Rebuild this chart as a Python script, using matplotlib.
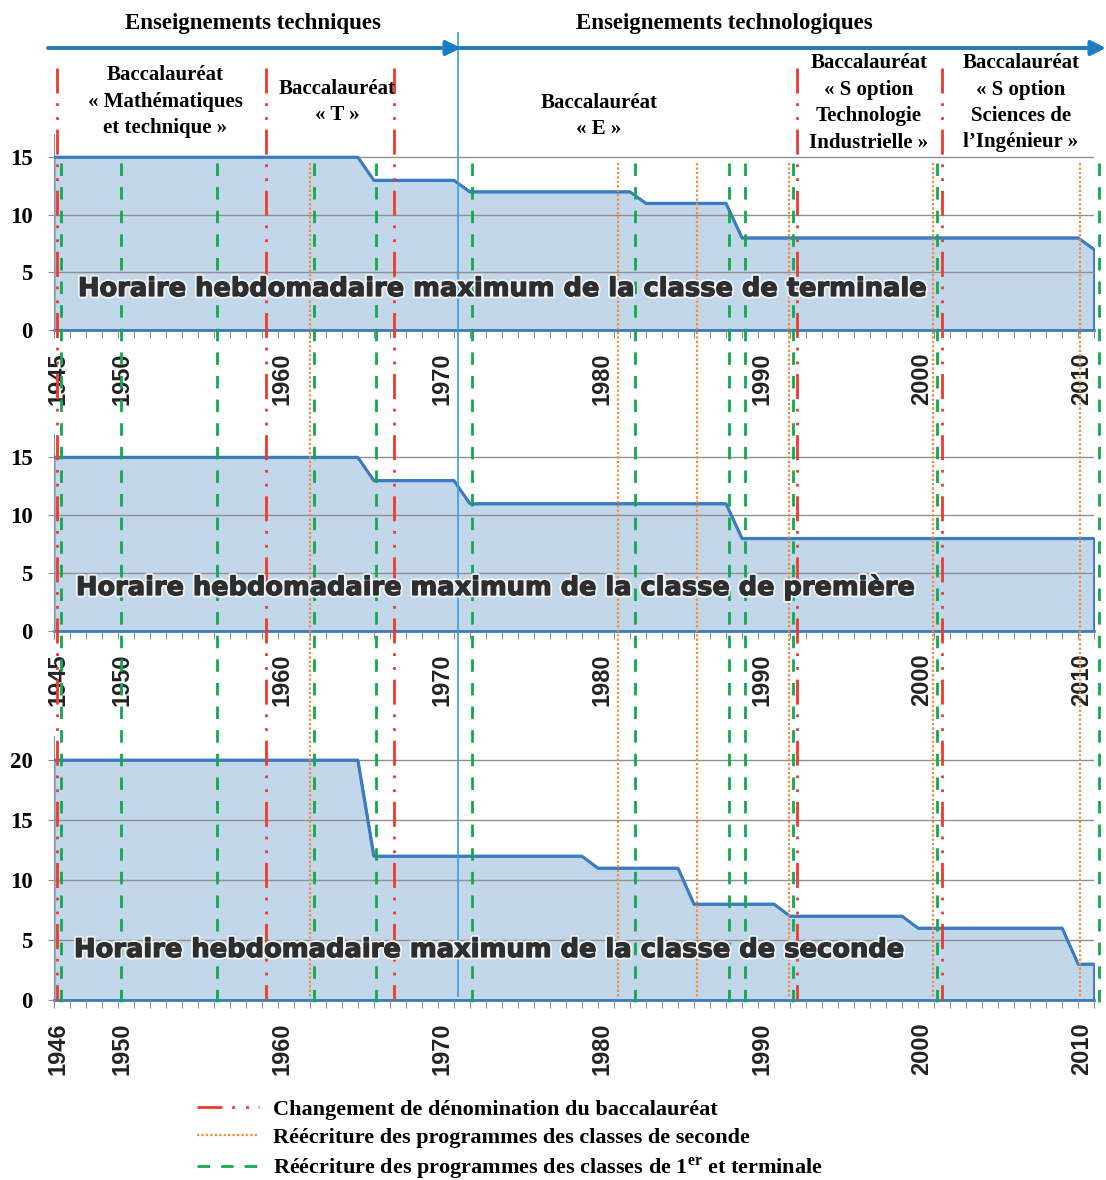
import numpy as np
import matplotlib
matplotlib.use('Agg')
import matplotlib.pyplot as plt
import matplotlib.transforms as mtransforms
import matplotlib.patheffects as pe
from matplotlib.lines import Line2D

plt.rcParams['mathtext.fontset'] = 'custom'
plt.rcParams['mathtext.rm'] = 'Liberation Serif:bold'
plt.rcParams['mathtext.bf'] = 'Liberation Serif:bold'

# ---- Données ----
# sommets des courbes : année, horaire hebdomadaire maximum (h)
terminale_x = [1946, 1965, 1966, 1971, 1972, 1982, 1983, 1988, 1989, 2010, 2011]
terminale_y = [15, 15, 13, 13, 12, 12, 11, 11, 8, 8, 7]
premiere_x = [1946, 1965, 1966, 1971, 1972, 1988, 1989, 2011]
premiere_y = [15, 15, 13, 13, 11, 11, 8, 8]
seconde_x = [1946, 1965, 1966, 1979, 1980, 1985, 1986, 1991, 1992, 1999, 2000, 2009, 2010, 2011]
seconde_y = [20, 20, 12, 12, 11, 11, 8, 8, 7, 7, 6, 6, 3, 3]

# dates des évènements
changement_bac = [1946.2, 1959.25, 1967.3, 1992.45, 2001.5]
reecriture_seconde = [1962.0, 1981.25, 1986.2, 1991.95, 2000.95, 2010.15]
reecriture_1T = [1946.45, 1950.2, 1956.2, 1962.25, 1966.15, 1972.15,
                 1982.3, 1988.2, 1989.2, 1992.2, 2001.2, 2011.3]
passage_techno = 1971.25

annees = list(range(1946, 2012))
annees_etiq = [1946, 1950, 1960, 1970, 1980, 1990, 2000, 2010]
etiq_haut = ['1945', '1950', '1960', '1970', '1980', '1990', '2000', '2010']
etiq_bas = ['1946', '1950', '1960', '1970', '1980', '1990', '2000', '2010']

titres = ["Horaire hebdomadaire maximum de la classe de terminale",
          "Horaire hebdomadaire maximum de la classe de première",
          "Horaire hebdomadaire maximum de la classe de seconde"]

bacs = [(165, 75, ["Baccalauréat", "« Mathématiques", "et technique »"]),
        (337, 89, ["Baccalauréat", "« T »"]),
        (599, 103, ["Baccalauréat", "« E »"]),
        (869, 63, ["Baccalauréat", "« S option", "Technologie", "Industrielle »"]),
        (1021, 63, ["Baccalauréat", "« S option", "Sciences de", "l’Ingénieur »"])]

legende = ["Changement de dénomination du baccalauréat",
           "Réécriture des programmes des classes de seconde",
           "Réécriture des programmes des classes de 1$^{\\mathbf{er}}$ et terminale"]

# ---- Styles ----
REMPL = '#C3D7EA'
BLEU = '#3A7CC2'
GRILLE = '#8f8f8f'
ROUGE = '#EE3A2C'
ORANGE = '#F58A3A'
VERT = '#12A84E'
ls_rouge = (0, (9, 3.5, 1, 4, 1, 3.5))
ls_vert = (0, (4.5, 4))
ls_orange = (0, (1, 1))

W, H = 1106, 1180
fig = plt.figure(figsize=(W / 100, H / 100), dpi=100)
pix = mtransforms.Affine2D().scale(1 / W, -1 / H).translate(0, 1) + fig.transFigure

G = 53.5 / W
LARG = 1040.5 / W
decal = mtransforms.ScaledTranslation(4 / 100, 0, fig.dpi_scale_trans)


def panneau(bas_px, haut_px, x, y, ymax, yticks, etiq):
    ax = fig.add_axes([G, 1 - bas_px / H, LARG, (bas_px - haut_px) / H])
    ax.fill_between(x, y, 0, facecolor=REMPL, edgecolor=BLEU, lw=2, zorder=1)
    ax.plot(x, y, color=BLEU, lw=2, zorder=3)
    ax.set_xlim(1946, 2011)
    ax.set_ylim(0, ymax)
    ax.yaxis.grid(True, color=GRILLE, lw=1)
    ax.set_axisbelow(False)
    for s in ['top', 'right']:
        ax.spines[s].set_visible(False)
    ax.spines['left'].set_color(GRILLE)
    ax.spines['bottom'].set_color(BLEU)
    ax.spines['bottom'].set_linewidth(2)
    lab = [etiq[annees_etiq.index(a)] if a in annees_etiq else '' for a in annees]
    ax.set_xticks(annees, labels=lab, rotation=90, fontsize=17, fontweight='bold',
                  family='Liberation Sans', color='#222222')
    ax.set_yticks(yticks, labels=[str(v) for v in yticks], fontsize=16.5,
                  fontweight='bold', family='Liberation Serif')
    ax.tick_params(axis='x', length=6, color=GRILLE, pad=10)
    ax.tick_params(axis='y', length=4, color=GRILLE, pad=11)
    # léger décalage des étiquettes vers la droite, comme dans l'original
    for t in ax.get_xticklabels():
        t.set_transform(t.get_transform() + decal)
    return ax


panneau(330, 134, terminale_x, terminale_y, 17, [0, 5, 10, 15], etiq_haut)
panneau(631, 434, premiere_x, premiere_y, 17, [0, 5, 10, 15], etiq_haut)
panneau(1000, 736, seconde_x, seconde_y, 22, [0, 5, 10, 15, 20], etiq_bas)

# ---- calque de dessin (x en années, y en pixels) ----
ov = fig.add_axes([G, 0, LARG, 1], zorder=10)
ov.set_xlim(1946, 2011)
ov.set_ylim(H, 0)
ov.axis('off')
ov.patch.set_alpha(0)

ov.vlines(reecriture_seconde, 163, 998, colors=ORANGE, lw=1.6, linestyles=ls_orange, clip_on=False)
ov.vlines(reecriture_1T, 163, 1003, colors=VERT, lw=2, linestyles=ls_vert, clip_on=False)
ov.vlines(changement_bac, 68, 1000, colors=ROUGE, lw=2, linestyles=ls_rouge, clip_on=False)
ov.vlines([passage_techno], 32, 997, colors='#3AA0E0', lw=1.2, clip_on=False)

# flèches du haut
fl = dict(arrowstyle='-|>', color='#1E7BC6', lw=2.8, mutation_scale=22, shrinkA=0, shrinkB=0)
ov.annotate('', xy=(461, 48), xytext=(48, 48), xycoords=pix, textcoords=pix, arrowprops=fl)
ov.annotate('', xy=(1106, 48), xytext=(457, 48), xycoords=pix, textcoords=pix, arrowprops=fl)

serif = dict(family='Liberation Serif', fontweight='bold', color='black')
ov.text(253, 23, "Enseignements techniques", transform=pix, ha='center', va='center', fontsize=16.5, **serif)
ov.text(724, 23, "Enseignements technologiques", transform=pix, ha='center', va='center', fontsize=16.5, **serif)

for cx, y0, lignes in bacs:
    for i, l in enumerate(lignes):
        ov.text(cx, y0 + i * 26.5, l, transform=pix, ha='center', va='center', fontsize=15, **serif)

# titres des panneaux, ajustés en largeur
renderer = fig.canvas.get_renderer()
pos_titres = [(78, 289, 852), (76, 587, 842), (74, 950, 833)]
effets = [pe.withStroke(linewidth=3.5, foreground='#eef3f8'),
          pe.Stroke(linewidth=0.9, foreground='#2e2e2e'), pe.Normal()]
for (x0, y0, larg), titre in zip(pos_titres, titres):
    t = ov.text(x0, y0, titre, transform=pix, ha='left', va='center', fontsize=18,
                family='DejaVu Sans', fontweight='heavy', color='#2e2e2e', zorder=20,
                path_effects=effets)
    w = t.get_window_extent(renderer).width
    t.set_fontsize(18 * larg / w)

# légende
poignees = [Line2D([], [], color=ROUGE, lw=2, linestyle=ls_rouge),
            Line2D([], [], color=ORANGE, lw=1.6, linestyle=ls_orange),
            Line2D([], [], color=VERT, lw=2, linestyle=ls_vert)]
fig.legend(poignees, legende, loc='upper left', bbox_to_anchor=(197 / W, 1 - 1099 / H),
           frameon=False, prop=dict(family='Liberation Serif', weight='bold', size=16),
           handlelength=2.8, handletextpad=0.6, labelspacing=0.35, borderpad=0, borderaxespad=0)

fig.savefig('out.png', dpi=100)
